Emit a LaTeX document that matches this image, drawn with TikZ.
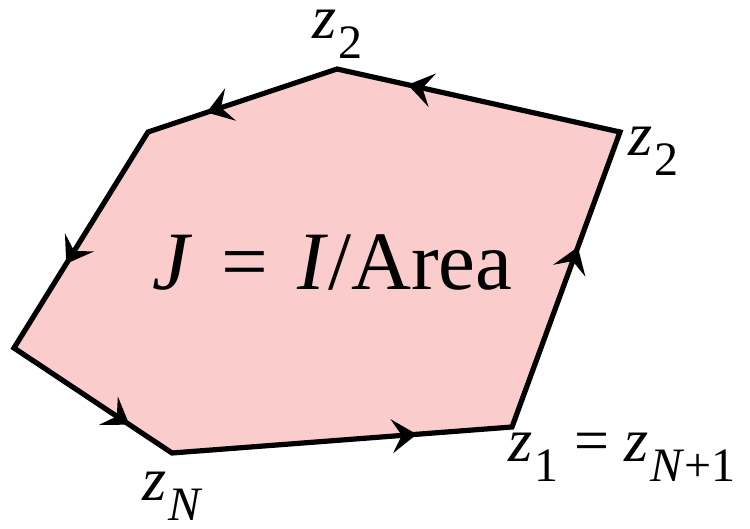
\documentclass[tikz,border=0pt]{standalone}
\usepackage{fontspec}
\setmainfont{Liberation Serif}
\usetikzlibrary{arrows.meta,decorations.markings}
\definecolor{areapink}{RGB}{250,204,204}

% z with a lowered index
\newcommand{\zidx}[1]{\textit{z}\kern1pt\raisebox{-10pt}{\fontsize{24}{24}\selectfont #1}}

\begin{document}
\begin{tikzpicture}[
  x=0.5pt,y=-0.5pt,
  >={Stealth[length=12.5pt,width=17pt,inset=5pt]},
  region/.style={fill=areapink,draw=black,line width=2.6pt,line join=miter},
  flow/.style={line width=2.6pt,postaction={decorate},
               decoration={markings,mark=at position #1 with {\arrow{>}}}},
  zlab/.style={font=\fontsize{31}{31}\selectfont,inner sep=0pt,
               text height=16pt,anchor=base west},
  big/.style={font=\fontsize{41.5}{41.5}\selectfont,inner sep=0pt,anchor=base west}
]
\useasboundingbox (0,0) rectangle (750,529);

\coordinate (p1) at (512,427);
\coordinate (p2) at (620,132);
\coordinate (p3) at (337,69);
\coordinate (p4) at (148,132);
\coordinate (p5) at (14,348);
\coordinate (pn) at (172,453);

\path[region] (p1) -- (p2) -- (p3) -- (p4) -- (p5) -- (pn) -- cycle;

\path[flow=0.61] (p1) -- (p2);
\path[flow=0.75] (p2) -- (p3);
\path[flow=0.69] (p3) -- (p4);
\path[flow=0.61] (p4) -- (p5);
\path[flow=0.73] (p5) -- (pn);
\path[flow=0.72] (pn) -- (p1);

\node[big]  (txt) at (152,290) {\textit{J}\hspace{0.35em}=\hspace{0.35em}\textit{I}/Area};
\node[zlab] (ztop) at (312,39)  {\zidx{2}};
\node[zlab] (zrgt) at (628,156) {\zidx{2}};
\node[zlab] (zone) at (508,461) {\zidx{1} = \zidx{\textit{N}+1}};
\node[zlab] (zlast) at (142,500) {\zidx{\textit{N}}};
\end{tikzpicture}
\end{document}
